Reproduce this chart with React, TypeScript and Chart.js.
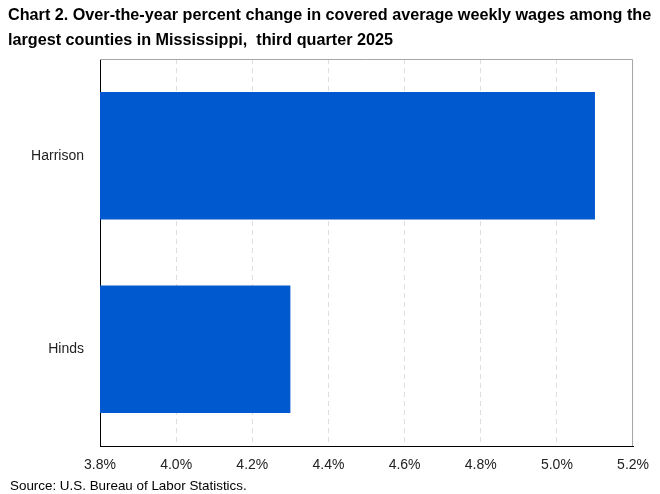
import { useEffect, useRef } from 'react'
import { Chart, registerables } from 'chart.js'

Chart.register(...registerables)

const counties = ['Harrison', 'Hinds']
const wageChange = [5.1, 4.3]
const xTicks = [3.8, 4.0, 4.2, 4.4, 4.6, 4.8, 5.0, 5.2]

const titleLines = [
  'Chart 2. Over-the-year percent change in covered average weekly wages among the',
  'largest counties in Mississippi,  third quarter 2025',
]
const sourceText = 'Source: U.S. Bureau of Labor Statistics.'

const FONT = "'Liberation Sans', Arial, sans-serif"

// draws title, source and the grey top/right frame
const decorPlugin = {
  id: 'decor',
  afterDraw: (chart: Chart) => {
    const { ctx, chartArea } = chart
    ctx.save()
    ctx.strokeStyle = '#a6a6a6'
    ctx.lineWidth = 1
    ctx.beginPath()
    ctx.moveTo(chartArea.left, chartArea.top + 0.5)
    ctx.lineTo(chartArea.right - 0.5, chartArea.top + 0.5)
    ctx.lineTo(chartArea.right - 0.5, chartArea.bottom)
    ctx.stroke()

    ctx.fillStyle = '#000'
    ctx.textBaseline = 'middle'
    ctx.font = `bold 16.2px ${FONT}`
    ctx.fillText(titleLines[0], 8, 16)
    ctx.fillText(titleLines[1], 8, 41)

    ctx.font = `13.4px ${FONT}`
    ctx.fillText(sourceText, 10, 486)
    ctx.restore()
  },
}

const WageChart = () => {
  const chartRef = useRef<HTMLCanvasElement | null>(null)

  useEffect(() => {
    const ctx = chartRef.current?.getContext('2d')
    if (!ctx) return

    new Chart(ctx, {
      type: 'bar',
      data: {
        labels: counties,
        datasets: [
          {
            label: 'Percent change',
            data: wageChange,
            backgroundColor: '#0059cf',
            barPercentage: 0.66,
            categoryPercentage: 1,
          },
        ],
      },
      options: {
        indexAxis: 'y',
        responsive: false,
        animation: false,
        layout: { padding: { top: 59, right: 26, left: 0, bottom: 0 } },
        plugins: {
          legend: { display: false },
          title: { display: false },
          tooltip: { enabled: false },
        },
        scales: {
          x: {
            min: xTicks[0],
            max: xTicks[xTicks.length - 1],
            afterBuildTicks: (scale: any) => {
              scale.ticks = xTicks.map((v) => ({ value: v }))
            },
            afterFit: (scale: any) => {
              scale.height = 48
            },
            ticks: {
              padding: 11,
              color: '#222',
              font: { family: FONT, size: 14 },
              callback: (value: any) => `${Number(value).toFixed(1)}%`,
            },
            grid: {
              drawTicks: false,
              color: (c: any) =>
                c.index === 0 || c.index === xTicks.length - 1 ? 'transparent' : '#dedede',
            },
            border: { display: true, color: '#000', width: 1, dash: [5, 4] },
          },
          y: {
            afterFit: (scale: any) => {
              scale.width = 100
            },
            ticks: {
              padding: 16,
              color: '#222',
              font: { family: FONT, size: 14 },
            },
            grid: { display: false, drawTicks: false },
            border: { display: true, color: '#000', width: 1 },
          },
        },
      },
      plugins: [decorPlugin],
    })

    return () => {
      Chart.getChart(ctx)?.destroy()
    }
  }, [])

  return <canvas ref={chartRef} width={660} height={494} style={{ display: 'block' }} />
}

export default function App() {
  return (
    <div style={{ position: 'fixed', left: 0, top: 0, width: 660, height: 494, background: '#fff' }}>
      <WageChart />
    </div>
  )
}
